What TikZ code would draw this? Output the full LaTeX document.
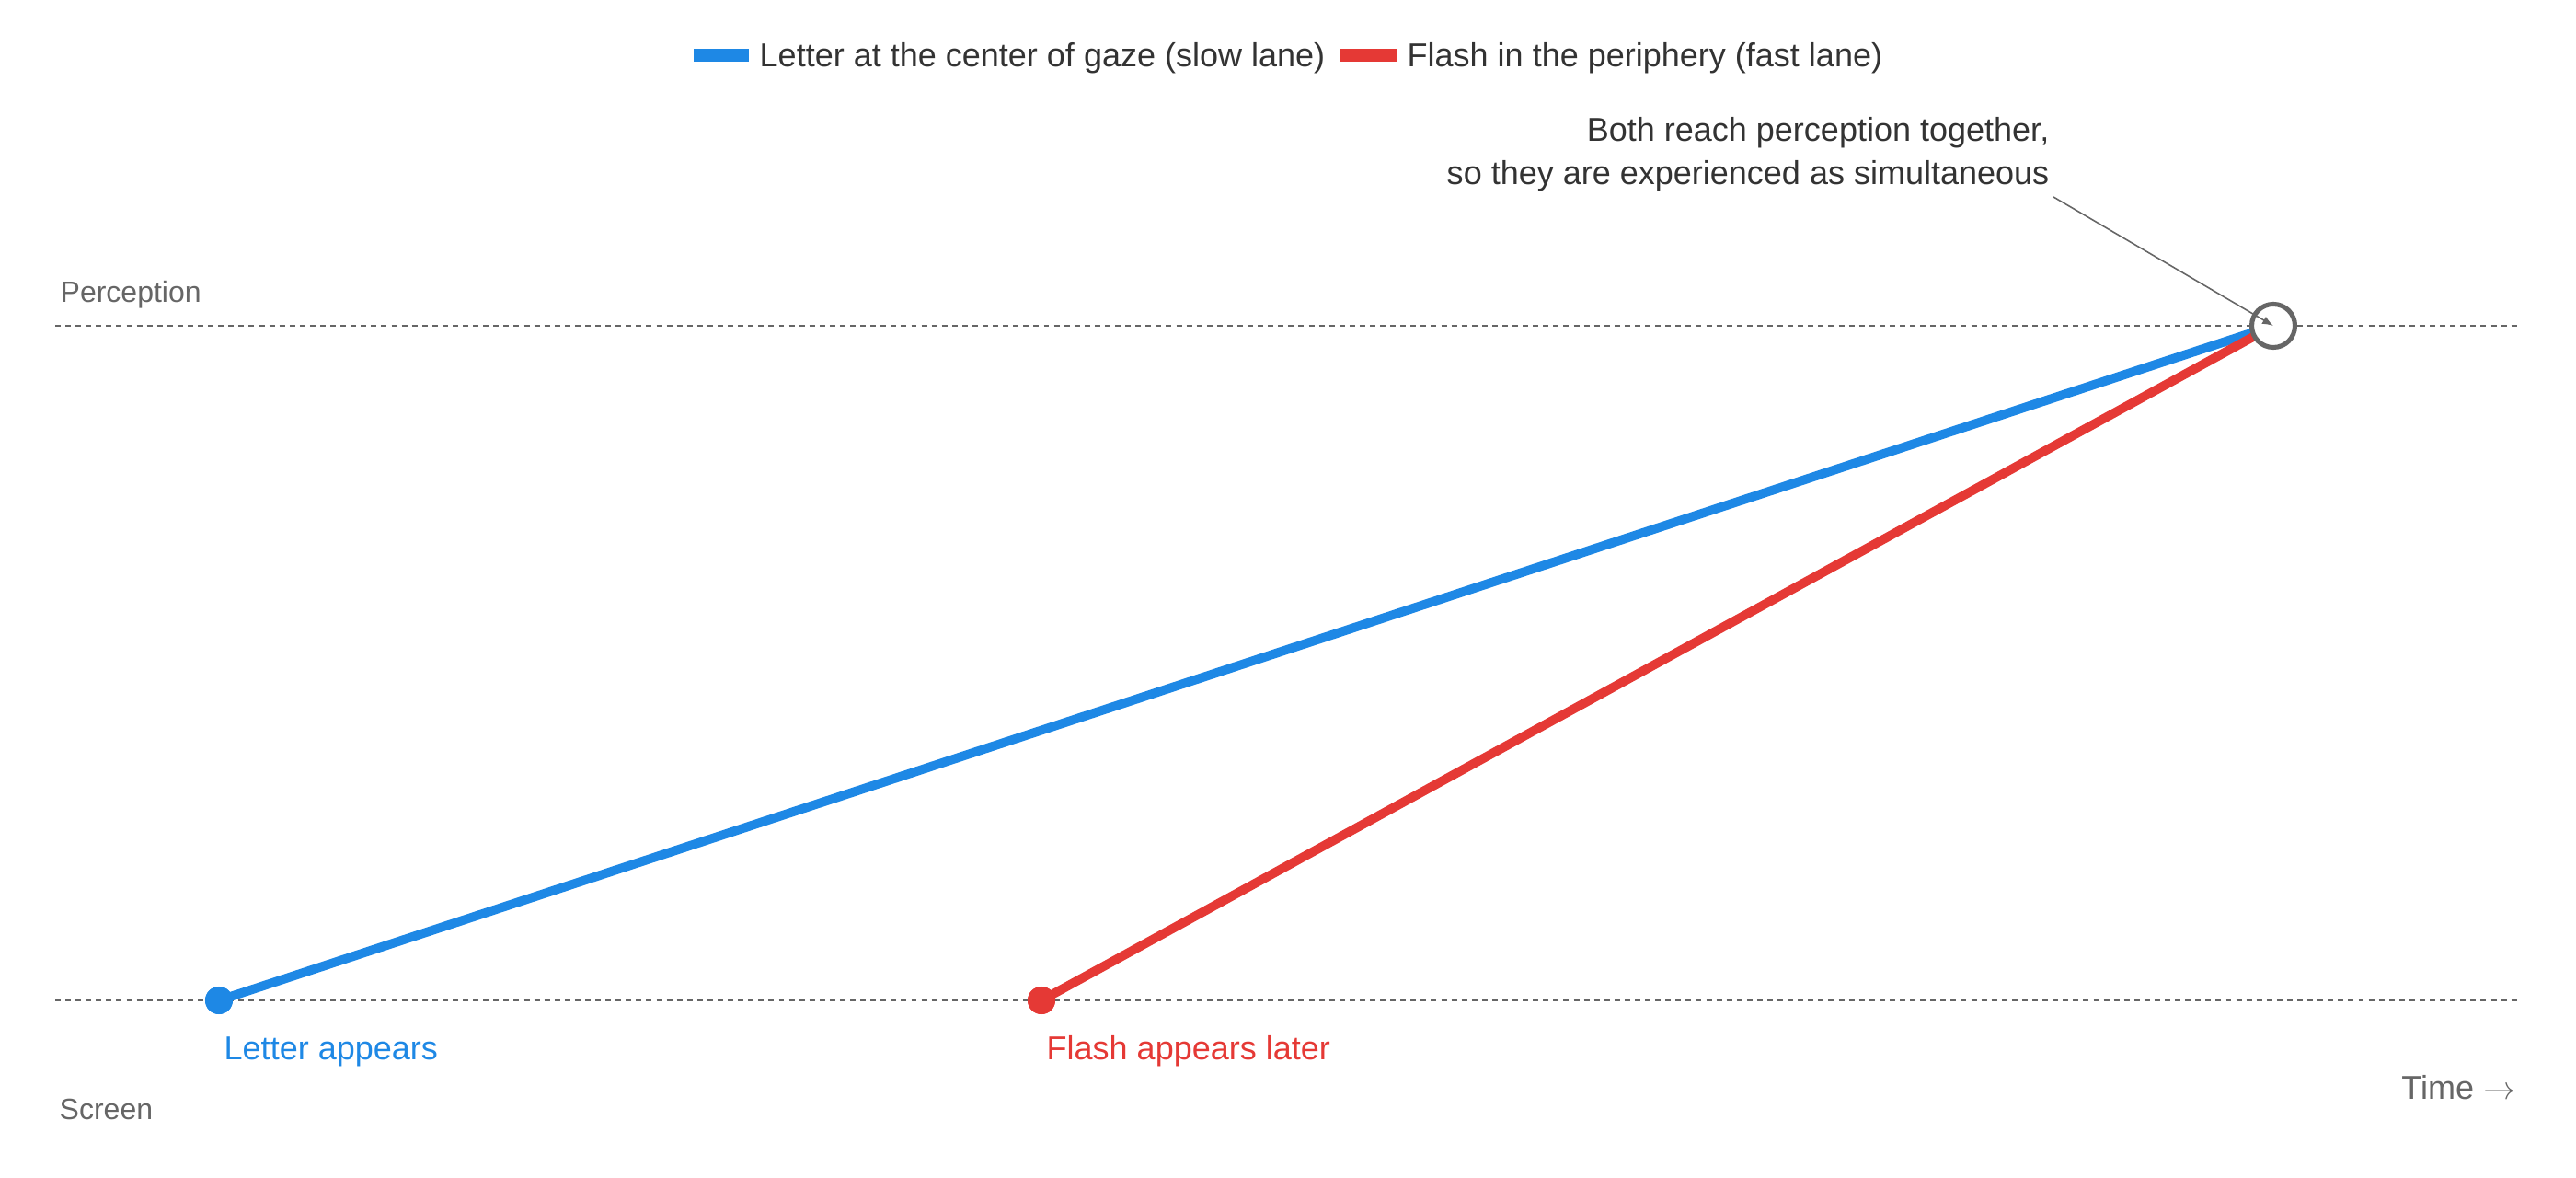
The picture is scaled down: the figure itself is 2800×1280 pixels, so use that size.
\documentclass[tikz,border=0pt]{standalone}
\usepackage{fontspec}
\setmainfont{Liberation Sans}
\usetikzlibrary{arrows.meta}
\definecolor{lblue}{HTML}{1E88E5}
\definecolor{lred}{HTML}{E53935}
\definecolor{lgray}{HTML}{666666}
\definecolor{ldark}{HTML}{333333}
\begin{document}
\begin{tikzpicture}[x=0.01cm,y=-0.01cm,
  txt/.style={inner sep=0pt,font=\fontsize{10.24pt}{12pt}\selectfont},
  small/.style={inner sep=0pt,font=\fontsize{9.1pt}{11pt}\selectfont,text=lgray},
  guide/.style={draw=lgray,line width=0.6pt,dash pattern=on 1.7pt off 1.45pt},
  lane/.style={line width=2.8pt},
  dot/.style={circle,inner sep=0pt,minimum size=0.3cm}]
\useasboundingbox (0,0) rectangle (2800,1280);
% legend
\fill[lblue] (754,53) rectangle (814,67);
\node[txt,text=ldark,anchor=base west] (lg1) at (825,73) {Letter at the center of gaze (slow lane)};
\fill[lred] (1457,53) rectangle (1518,67);
\node[txt,text=ldark,anchor=base west] (lg2) at (1529,73) {Flash in the periphery (fast lane)};
% guides
\coordinate (pl) at (60,354);
\coordinate (pr) at (2740,354);
\coordinate (sl) at (60,1087);
\coordinate (sr) at (2740,1087);
\draw[guide] (pl) -- (pr);
\draw[guide] (sl) -- (sr);
\node[small,anchor=base west] (perc) at (65,329) {Perception};
\node[small,anchor=base west] (scr) at (64,1216) {Screen};
\node[small,anchor=base east,font=\fontsize{10.24pt}{12pt}\selectfont] (time) at (2735,1195) {Time $\rightarrow$};
% lanes
\coordinate (meet) at (2471,354);
\node[dot,fill=lblue] (a) at (238,1087) {};
\node[dot,fill=lred] (b) at (1132,1087) {};
\draw[lane,lblue] (a.center) -- (meet);
\draw[lane,lred] (b.center) -- (meet);
\node[dot,fill=lblue] at (a) {};
\node[dot,fill=lred] at (b) {};
\node[circle,draw=lgray,fill=white,line width=1.45pt,minimum size=0.47cm,inner sep=0pt] (ring) at (meet) {};
% labels
\node[txt,text=lblue,anchor=base west] (la) at (243,1152) {Letter appears};
\node[txt,text=lred,anchor=base west] (lb) at (1137,1152) {Flash appears later};
% annotation
\node[txt,text=ldark,anchor=base east] (an1) at (2228,154) {Both reach perception together,};
\node[txt,text=ldark,anchor=base east] (an2) at (2228,201) {so they are experienced as simultaneous};
\coordinate (anstart) at (2232,214);
\draw[lgray,line width=0.45pt,-{Latex[length=3.4pt,width=2.6pt]}] (anstart) -- (ring.center);
\end{tikzpicture}
\end{document}
